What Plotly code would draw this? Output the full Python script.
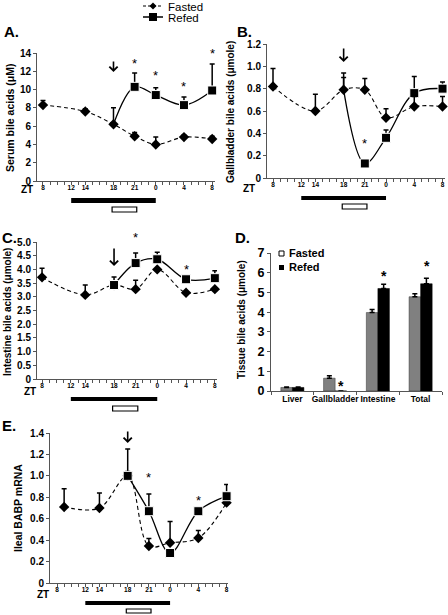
import plotly.graph_objects as go

W, H = 448, 615
FONT = "Arial, Liberation Sans, Helvetica, sans-serif"

# ---------------- data ----------------
hours_fasted = [8, 14, 18, 21, 24, 28, 32]
hours_fasted_e = [9, 14, 18, 21, 24, 28, 32]
hours_refed = [18, 21, 24, 28, 32]
zt_label_hours = [8, 12, 14, 18, 21, 24, 28, 32]
zt_labels = ["8", "12", "14", "18", "21", "0", "4", "8"]

serum_fasted = [8.3, 7.6, 6.2, 4.9, 4.0, 4.8, 4.6]
serum_fasted_err = [0.5, 0.3, 1.8, 0.4, 0.8, 0.2, 0.3]
serum_refed = [6.2, 10.3, 9.4, 8.3, 9.9]
serum_refed_err = [0.0, 1.5, 0.8, 0.9, 2.9]

gb_fasted = [0.82, 0.60, 0.79, 0.79, 0.54, 0.64, 0.64]
gb_fasted_err = [0.16, 0.15, 0.11, 0.10, 0.08, 0.09, 0.09]
gb_refed = [0.79, 0.13, 0.36, 0.76, 0.80]
gb_refed_err = [0.15, 0.0, 0.07, 0.15, 0.06]

int_fasted = [3.71, 3.07, 3.43, 3.28, 4.0, 3.15, 3.28]
int_fasted_err = [0.33, 0.36, 0.0, 0.32, 0.0, 0.0, 0.0]
int_refed = [3.43, 4.23, 4.37, 3.64, 3.68]
int_refed_err = [0.29, 0.37, 0.26, 0.0, 0.27]

tissues = ["Liver", "Gallbladder", "Intestine", "Total"]
tissue_fasted = [0.18, 0.65, 3.98, 4.78]
tissue_fasted_err = [0.02, 0.12, 0.15, 0.15]
tissue_refed = [0.18, 0.0, 5.2, 5.44]
tissue_refed_err = [0.02, 0.0, 0.22, 0.28]

babp_fasted = [0.71, 0.70, 1.0, 0.345, 0.375, 0.42, 0.75]
babp_fasted_err = [0.17, 0.14, 0.25, 0.07, 0.20, 0.07, 0.0]
babp_refed = [1.0, 0.67, 0.28, 0.67, 0.81]
babp_refed_err = [0.04, 0.16, 0.0, 0.0, 0.11]

# ---------------- helpers ----------------
def px(x):
    return x / W

def py(y):
    return 1 - y / H

AX = "#555555"

fig = go.Figure()
annotations = []
shapes = []
layout = {}


def yticks(maxv, step, fmt):
    n = int(round(maxv / step))
    vals = [round(i * step, 6) for i in range(n + 1)]
    text = ["0" if v == 0 else fmt.format(v) for v in vals]
    return vals, text


hour_ticks = list(range(8, 33))
hour_text = [zt_labels[zt_label_hours.index(h)] if h in zt_label_hours else "" for h in hour_ticks]


def axis_names(n):
    return ("x", "y", "xaxis", "yaxis") if n == 1 else (f"x{n}", f"y{n}", f"xaxis{n}", f"yaxis{n}")


def time_panel(n, box, yr, step, fmt, xr, hf, f, fe, hr, r, re, refed_first, hide_first_refed,
               bars_y, zt_pos):
    xa, ya, xk, yk = axis_names(n)
    x0, x1, y0, y1 = box
    tv, tt = yticks(yr[1], step, fmt)
    layout[xk] = dict(domain=[px(x0), px(x1)], range=xr, anchor=ya, showline=True, linecolor=AX,
                      linewidth=1, ticks="outside", ticklen=3, tickcolor=AX, tickvals=hour_ticks,
                      ticktext=hour_text, showgrid=False, zeroline=False, automargin=False,
                      tickfont=dict(family=FONT, size=6.5, color="black", weight="bold"),
                      ticklabelstandoff=-3, tickangle=0)
    layout[yk] = dict(domain=[py(y1), py(y0)], range=yr, anchor=xa, showline=True, linecolor=AX,
                      linewidth=1, ticks="outside", ticklen=3, tickcolor=AX, tickvals=tv,
                      ticktext=tt, showgrid=False, zeroline=False, automargin=False,
                      tickfont=dict(family=FONT, size=10, color="black", weight="bold"))
    fasted = go.Scatter(
        x=hf, y=f, xaxis=xa, yaxis=ya, mode="lines+markers", cliponaxis=False,
        line=dict(color="black", width=1.1, dash="4px,3px", shape="spline", smoothing=1),
        marker=dict(symbol="diamond", size=8, color="black", opacity=1),
        error_y=dict(type="data", symmetric=False, array=fe, arrayminus=[0] * len(fe),
                     color="black", thickness=1.5, width=2.5))
    sizes = [0 if (hide_first_refed and i == 0) else 9 for i in range(len(r))]
    refed = go.Scatter(
        x=hr, y=r, xaxis=xa, yaxis=ya, mode="lines+markers", cliponaxis=False,
        line=dict(color="black", width=1.3, shape="spline", smoothing=1),
        marker=dict(symbol="square", size=sizes, color="black", opacity=1),
        error_y=dict(type="data", symmetric=False, array=re, arrayminus=[0] * len(re),
                     color="black", thickness=1.5, width=2.5))
    if refed_first:
        fig.add_trace(refed)
        fig.add_trace(fasted)
    else:
        fig.add_trace(fasted)
        fig.add_trace(refed)
    # dark period bar (ZT12-ZT0) and refeeding window box
    b0, b1, w0, w1 = bars_y
    shapes.append(dict(type="rect", xref=xa, yref="paper", x0=12, x1=24, y0=py(b1), y1=py(b0),
                       fillcolor="black", line=dict(width=0)))
    shapes.append(dict(type="rect", xref=xa, yref="paper", x0=17.8, x1=21.3, y0=py(w1), y1=py(w0),
                       fillcolor="white", line=dict(color="black", width=1.2)))
    annotations.append(dict(text="ZT", xref="paper", yref="paper", x=px(zt_pos[0]), y=py(zt_pos[1]),
                            xanchor="center", yanchor="middle", showarrow=False,
                            font=dict(family=FONT, size=10, color="black", weight="bold")))


# A
time_panel(1, (37, 215, 53, 181), [0, 14], 2, "{:.0f}", [7.15, 32.4],
           hours_fasted, serum_fasted, serum_fasted_err, hours_refed, serum_refed, serum_refed_err,
           True, True, (198, 203, 207, 212), (27, 189.5))
# B
time_panel(2, (267, 445, 44, 178), [0, 1.2], 0.2, "{:.1f}", [7.15, 32.35],
           hours_fasted, gb_fasted, gb_fasted_err, hours_refed, gb_refed, gb_refed_err,
           True, True, (196, 200, 204, 209), (249, 188.5))
# C
time_panel(3, (37, 217, 242, 379), [0, 5], 0.5, "{:.1f}", [7.3, 32.3],
           hours_fasted, int_fasted, int_fasted_err, hours_refed, int_refed, int_refed_err,
           False, False, (397, 401, 406, 411), (30, 391.5))
# E
time_panel(5, (50, 228, 433, 583), [0, 1.4], 0.2, "{:.1f}", [7.0, 32.2],
           hours_fasted_e, babp_fasted, babp_fasted_err, hours_refed, babp_refed, babp_refed_err,
           False, False, (601, 605, 609, 613), (43, 594.5))

# D (bar chart)
tv, tt = yticks(7, 1, "{:.0f}")
layout["xaxis4"] = dict(domain=[px(271), px(442)], anchor="y4", type="category", showline=True,
                        linecolor=AX, linewidth=1, ticks="outside", ticklen=3, tickcolor=AX,
                        tickson="boundaries", showgrid=False, zeroline=False, automargin=False,
                        tickangle=0,
                        tickfont=dict(family=FONT, size=8.5, color="black", weight="bold"))
layout["yaxis4"] = dict(domain=[py(391), py(253)], range=[0, 7], anchor="x4", showline=True,
                        linecolor=AX, linewidth=1, ticks="outside", ticklen=3, tickcolor=AX,
                        tickvals=tv, ticktext=tt, showgrid=False, zeroline=False, automargin=False,
                        tickfont=dict(family=FONT, size=12.5, color="black", weight="bold"))
fig.add_trace(go.Bar(x=tissues, y=tissue_fasted, xaxis="x4", yaxis="y4",
                     marker=dict(color="#808080", line=dict(color="#333333", width=0.5)),
                     error_y=dict(type="data", symmetric=False, array=tissue_fasted_err,
                                  arrayminus=[0] * 4, color="black", thickness=1.5, width=2.5)))
fig.add_trace(go.Bar(x=tissues, y=tissue_refed, xaxis="x4", yaxis="y4",
                     marker=dict(color="black", line=dict(color="black", width=0.5)),
                     error_y=dict(type="data", symmetric=False, array=tissue_refed_err,
                                  arrayminus=[0] * 4, color="black", thickness=1.5, width=2.5)))

# ---------------- annotations ----------------
def txt(t, x, y, size, bold=True, angle=0, xanchor="center"):
    annotations.append(dict(text=t, xref="paper", yref="paper", x=px(x), y=py(y), showarrow=False,
                            xanchor=xanchor, yanchor="middle", textangle=angle,
                            font=dict(family=FONT, size=size, color="black",
                                      weight="bold" if bold else "normal")))

# panel letters
txt("A.", 2, 31, 15, xanchor="left")
txt("B.", 235, 31, 15, xanchor="left")
txt("C.", 0, 238, 15, xanchor="left")
txt("D.", 233, 238, 15, xanchor="left")
txt("E.", 0, 426, 15, xanchor="left")

# y titles
txt("Serum bile acids (μM)", 10, 118, 10.5, angle=-90)
txt("Gallbladder bile acids (μmole)", 230, 112, 10, angle=-90)
txt("Intestine bile acids (μmole)", 7, 312, 10, angle=-90)
txt("Tissue bile acids (μmole)", 241, 320, 10, angle=-90)
txt("Ileal BABP mRNA", 18, 508, 10.5, angle=-90)

# top legend
shapes.append(dict(type="line", xref="paper", yref="paper", x0=px(143), x1=px(163), y0=py(6), y1=py(6),
                   line=dict(color="black", width=1.2, dash="3px,2px")))
shapes.append(dict(type="path", xref="paper", yref="paper",
                   path=f"M {px(153)} {py(2.5)} L {px(156.5)} {py(6)} L {px(153)} {py(9.5)} L {px(149.5)} {py(6)} Z",
                   fillcolor="black", line=dict(width=0)))
shapes.append(dict(type="line", xref="paper", yref="paper", x0=px(143), x1=px(163), y0=py(17), y1=py(17),
                   line=dict(color="black", width=1.5)))
shapes.append(dict(type="rect", xref="paper", yref="paper", x0=px(149), x1=px(157), y0=py(21), y1=py(13),
                   fillcolor="black", line=dict(width=0)))
txt("Fasted", 166, 6.5, 11.5, bold=False, xanchor="left")
txt("Refed", 166, 18.5, 11.5, bold=False, xanchor="left")

# D legend
shapes.append(dict(type="rect", xref="paper", yref="paper", x0=px(279), x1=px(284), y0=py(256), y1=py(251),
                   fillcolor="white", line=dict(color="black", width=1)))
shapes.append(dict(type="rect", xref="paper", yref="paper", x0=px(279), x1=px(284), y0=py(270), y1=py(265),
                   fillcolor="black", line=dict(width=0)))
txt("Fasted", 287, 253, 11, xanchor="left")
txt("Refed", 287, 267, 11, xanchor="left")

# arrows (refeeding onset at ZT18)
for xa, head, length in [("x", 72, 12), ("x2", 62, 15), ("x3", 266, 19), ("x5", 443, 13)]:
    annotations.append(dict(text="", xref=xa, yref="paper", x=18, y=py(head), showarrow=True,
                            ax=0, ay=-length, arrowhead=4, arrowsize=1, arrowwidth=1.6,
                            arrowcolor="black"))

# significance stars (hour, pixel row)
stars = [("x", 21, 61), ("x", 24, 73), ("x", 28, 83), ("x", 32, 51),
         ("x2", 21, 140),
         ("x3", 21, 235), ("x3", 28, 267),
         ("x5", 21, 474), ("x5", 28, 497)]
for xa, h, row in stars:
    annotations.append(dict(text="*", xref=xa, yref="paper", x=h, y=py(row + 3), showarrow=False,
                            xanchor="center", yanchor="middle",
                            font=dict(family=FONT, size=13, color="black")))
for cat, row in [("Gallbladder", 383), ("Intestine", 273), ("Total", 263)]:
    annotations.append(dict(text="*", xref="x4", yref="paper", x=cat, xshift=6, y=py(row + 3),
                            showarrow=False, xanchor="center", yanchor="middle",
                            font=dict(family=FONT, size=14, color="black", weight="bold")))

fig.update_layout(
    template="none",
    width=W, height=H, margin=dict(l=0, r=0, t=0, b=0, pad=0, autoexpand=False),
    paper_bgcolor="white", plot_bgcolor="white", showlegend=False,
    barmode="group", bargap=0.46, bargroupgap=0,
    font=dict(family=FONT, color="black"),
    annotations=annotations, shapes=shapes, **layout)

fig.write_html("out.html", config={"displayModeBar": False},
               post_script="document.body.style.margin='0px';document.body.style.overflow='hidden';")
